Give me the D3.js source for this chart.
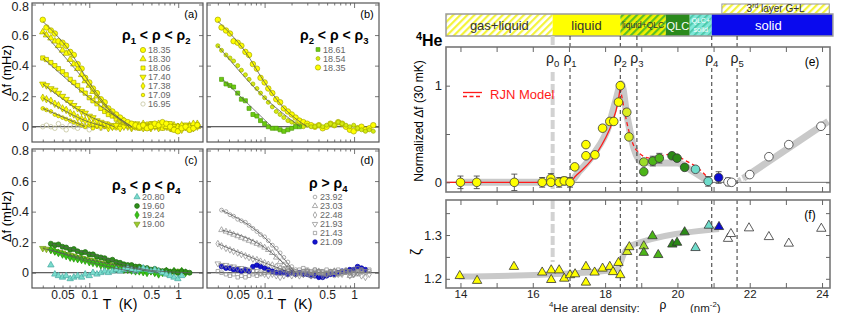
<!DOCTYPE html>
<html>
<head>
<meta charset="utf-8">
<script src="https://cdn.jsdelivr.net/npm/d3@7"></script>
<style>
  body { margin: 0; background: #fff; }
  svg { font-family: Arial, "Liberation Sans", sans-serif; }
</style>
</head>
<body>
<script>
// ---------- data: panels (a)-(d), delta f (mHz) vs T (K) ----------
const tempK = [0.030,0.033,0.037,0.041,0.045,0.050,0.055,0.061,0.067,0.074,0.082,0.090,0.100,0.110,0.122,0.135,0.149,0.164,0.182,0.201,0.222,0.245,0.271,0.299,0.331,0.365,0.404,0.446,0.493,0.545,0.602,0.665,0.735,0.812,0.897,0.991,1.095,1.21,1.34,1.48,1.64];

const df_1835 = [0.70,0.65,0.63,0.61,0.56,0.55,0.53,0.49,0.47,0.41,0.38,0.32,0.29,0.25,0.22,0.18,0.16,0.12,0.10,0.08,0.06,0.04,0.03,0.02,0.01,0.00,0.01,-0.01,0.00,0.02,0.01,0.03,0.02,0.00,-0.02,-0.03,-0.01,0.00,-0.02,-0.01,0.01];
const df_1830 = [0.62,0.60,0.58,0.56,0.53,0.50,0.48,0.44,0.41,0.38,0.34,0.30,0.27,0.23,0.20,0.17,0.14,0.11,0.09,0.07,0.05,0.04,0.02,0.01,0.00,0.01,0.00,-0.01,0.01,0.00,0.02,0.01,0.00,-0.01,-0.02,0.00,0.01,-0.01,0.00,0.02,0.00];
const df_1806 = [0.45,0.44,0.42,0.40,0.38,0.36,0.34,0.31,0.29,0.27,0.24,0.22,0.19,0.17,0.15,0.12,0.10,0.08,0.07,0.05,0.04,0.03,0.02,0.01,0.00,-0.01,0.01,0.00,0.02,0.01,0.00,-0.01,0.01,0.02,0.00,-0.01,0.00,0.01,-0.02,0.00,0.01];
const df_1740 = [0.28,0.27,0.25,0.24,0.22,0.20,0.18,0.16,0.14,0.12,0.10,0.09,0.07,0.06,0.04,0.03,0.02,0.01,0.00,0.01,-0.01,0.00,0.01,0.00,0.02,0.00,-0.01,0.01,0.00,0.01,-0.01,0.00,0.02,0.01,0.00,-0.02,0.00,0.01,0.00,-0.01,0.00];
const df_1738 = [0.19,0.18,0.17,0.15,0.14,0.12,0.11,0.09,0.08,0.06,0.05,0.04,0.03,0.02,0.01,0.00,0.01,-0.01,0.00,0.01,0.00,0.02,0.00,-0.01,0.01,0.00,0.02,0.00,-0.01,0.00,0.01,0.02,0.00,-0.01,0.01,0.00,-0.02,0.00,0.01,0.00,0.02];
const df_1709 = [0.12,0.11,0.10,0.08,0.07,0.06,0.05,0.04,0.03,0.02,0.01,0.00,0.01,-0.01,0.00,0.01,0.00,0.02,0.00,-0.01,0.01,0.00,0.01,0.00,-0.01,0.01,0.00,0.02,0.01,0.00,-0.01,0.00,0.01,0.00,-0.01,0.01,0.00,-0.01,0.01,0.00,0.00];
const df_1695 = [0.00,0.01,0.00,-0.01,0.02,0.00,-0.02,0.01,0.00,-0.01,0.01,0.00,-0.02,0.00,0.01,-0.01,0.00,0.01];

const df_1861 = [null,0.31,0.28,0.27,0.26,0.22,0.18,0.17,0.12,0.08,0.07,0.04,0.02,0.00,-0.01,-0.01,-0.02,-0.03,-0.02,-0.01,0.00,0.00];
const df_1854 = [0.53,0.50,0.47,0.45,0.43,0.40,0.37,0.34,0.31,0.28,0.25,0.22,0.19,0.16,0.13,0.10,0.08,0.06,0.04,0.03,0.02,0.01,0.00,0.01,0.00,0.00,0.01,0.00,0.01,0.02,0.01,0.03,0.02,0.01,0.00,0.01,-0.01,-0.02,-0.03,-0.02,-0.03];

const df_2080 = [null,null,0.05,-0.01,-0.02,-0.03,-0.02,-0.04,-0.03,-0.02,-0.03,-0.01,-0.02,0.00,-0.01,0.00,0.01,0.00,0.01,0.02,0.01,0.02,0.03,0.02,0.01,0.02,0.03,0.02,0.01,0.02,0.01,0.00,-0.01,-0.02,-0.03,-0.04,-0.02];
const df_1960 = [null,null,0.19,0.18,0.185,0.17,0.165,0.15,0.155,0.14,0.13,0.135,0.12,0.12,0.105,0.10,0.095,0.08,0.085,0.07,0.065,0.055,0.05,0.05,0.04,0.04,0.03,0.03,0.02,0.025,0.015,0.01,0.015,0.005,0.01,0.00,0.01,0.005,0.00];
const df_1924 = [null,null,0.15,0.14,0.13,0.12,0.11,0.10,0.095,0.09,0.085,0.08,0.07,0.065,0.06,0.05,0.045,0.04,0.035,0.03,0.025,0.02,0.02,0.015,0.01,0.01,0.005,0.00,0.01,0.00,-0.01,0.00,0.01,0.00,0.01,0.00,0.01,0.00];
const df_1900 = [0.16,0.155,0.15,0.14,0.135,0.13,0.12,0.115,0.11,0.10,0.095,0.09,0.085,0.08,0.07,0.065,0.06,0.055,0.05,0.045,0.04,0.035,0.03,0.025,0.02,0.02,0.015,0.01,0.01,0.005,0.00,0.01,0.00,0.005,0.00,0.01,0.00];

const df_2392 = [null,0.41,0.40,0.38,0.37,0.35,0.34,0.33,0.31,0.29,0.27,0.25,0.235,0.21,0.18,0.16,0.13,0.10,0.07,0.04,0.02,0.00,0.01,-0.01,0.00,0.02,0.01,-0.01,0.00,0.01,-0.02,0.00,0.01,0.02,0.00,-0.01,0.01,0.02,0.00,0.01];
const df_2303 = [null,0.28,0.27,0.26,0.25,0.24,0.23,0.22,0.21,0.20,0.19,0.18,0.165,0.15,0.13,0.10,0.07,0.05,0.03,0.01,0.00,-0.01,0.00,0.01,-0.02,0.00,0.01,0.00,-0.01,0.00,0.01,-0.01,0.00,0.01,-0.02,0.00,-0.01,0.01];
const df_2248 = [0.19,0.175,0.16,0.15,0.14,0.13,0.12,0.11,0.10,0.09,0.085,0.075,0.065,0.055,0.05,0.04,0.03,0.02,0.01,0.00,-0.01,-0.02,-0.01,0.00,-0.02,-0.01,0.00,-0.02,-0.01,0.00,0.01,-0.01,0.00,0.01,-0.02,-0.01,0.00,-0.02,-0.03,-0.01];
const df_2193 = [0.06,0.05,0.05,0.04,0.04,0.03,0.03,0.02,0.02,0.01,0.01,0.00,-0.01,-0.02,-0.01,-0.02,-0.03,-0.02,-0.01,-0.02,-0.01,0.00,-0.01,0.01,0.00,-0.01,0.01,0.00,-0.01,0.00,0.01,0.00,-0.01,0.01,0.00,-0.01,0.00,0.01];
const df_2143 = [0.01,0.00,-0.01,-0.02,-0.01,-0.03,-0.02,-0.03,-0.02,-0.01,-0.02,-0.01,0.00,0.01,0.00,0.02,0.01,0.02,0.03,0.02,0.01,0.02,0.03,0.02,0.01,0.02,0.00,0.01,0.02,0.01,0.00,0.02,0.01,0.00,0.01,0.02,0.03,0.02,0.01,0.02];
const df_2109 = [null,0.04,0.03,0.03,0.02,0.02,0.01,0.02,0.01,0.04,0.05,0.04,0.03,0.02,0.01,0.00,0.00,0.00,-0.01,0.00,-0.01,0.00,-0.01,-0.01,-0.02,-0.02,-0.03,-0.03,-0.02,-0.01,-0.01,0.00,0.01,0.01,0.02,0.02,0.04,0.03,0.02];

// fitted curves [T, delta f]
const fit_1835 = [[0.030,0.69],[0.061,0.49],[0.10,0.29],[0.16,0.13],[0.30,0.0]];
const fit_1830 = [[0.030,0.62],[0.09,0.30],[0.16,0.12],[0.28,0.0]];
const fit_1806 = [[0.030,0.45],[0.10,0.19],[0.30,0.0]];
const fit_1740 = [[0.030,0.28],[0.10,0.07],[0.19,0.0]];
const fit_1738 = [[0.030,0.19],[0.10,0.03],[0.15,0.0]];
const fit_1709 = [[0.030,0.12],[0.09,0.0]];
const fit_1861 = [[0.034,0.31],[0.12,0.0]];
const fit_1854 = [[0.030,0.53],[0.10,0.19],[0.25,0.0]];
const fit_1960 = [[0.037,0.19],[0.10,0.125],[0.50,0.015],[1.4,0.0]];
const fit_1900 = [[0.030,0.16],[0.10,0.085],[0.60,0.0]];
const fit_1924 = [[0.037,0.15],[0.10,0.07],[0.35,0.0]];
const fit_2392 = [[0.033,0.41],[0.10,0.23],[0.22,0.0]];
const fit_2303 = [[0.033,0.28],[0.10,0.165],[0.21,0.0]];
const fit_2248 = [[0.030,0.19],[0.10,0.065],[0.20,0.0]];

const legendA = ["18.35","18.30","18.06","17.40","17.38","17.09","16.95"];
const legendB = ["18.61","18.54","18.35"];
const legendC = ["20.80","19.60","19.24","19.00"];
const legendD = ["23.92","23.03","22.48","21.93","21.43","21.09"];

const tTicksMinor = [0.03,0.04,0.05,0.06,0.07,0.08,0.09,0.2,0.3,0.4,0.5,0.6,0.7,0.8,0.9];
const tTicksMajor = [0.1, 1];
const tTickLabels = [0.05, 0.1, 0.5, 1];
const dfTicks = [0, 0.2, 0.4, 0.6, 0.8];

// ---------- data: panels (e), (f) vs areal density ----------
const rhoPts = [14.0,14.45,15.49,16.26,16.5,16.5,16.73,16.87,17.03,17.16,17.47,17.47,17.72,17.93,18.13,18.24,18.37,18.42,18.6,18.66,19.07,19.07,19.32,19.5,19.85,19.99,20.2,20.5,20.85,21.14,21.4,21.5,22.0,22.53,23.08,23.97];
const normDf = [0,0,0,0,0.04,0.0,0,0.015,0,0.16,0.275,0.39,0.285,0.56,0.63,0.63,0.83,1.0,0.725,0.47,0.21,0.11,0.22,0.25,0.275,0.25,0.155,0.135,0.01,0.05,0.005,0.0,0.08,0.265,0.39,0.58];
const normErr = [0.065,0.065,0.085,0.05,0.05,0,0.05,0.04,0.05,0,0,0,0,0.03,0.03,0,0,0,0,0,0,0,0.05,0.05,0,0,0,0,0.05,0.06,0.04,0,0,0,0,0];
const rhoZeta = [13.98,14.46,15.48,16.26,16.51,16.51,16.73,16.87,17.03,17.17,17.47,17.47,17.71,17.93,18.13,18.22,18.37,18.42,18.61,18.67,19.07,19.07,19.31,19.47,19.86,19.99,20.2,20.5,20.87,21.15,21.4,21.48,21.98,22.53,23.08,23.98];
const zeta = [1.209,1.198,1.230,1.217,1.222,1.200,1.222,1.203,1.211,1.213,1.194,1.230,1.217,1.226,1.230,1.218,1.239,1.211,1.264,1.275,1.277,1.262,1.300,1.257,1.281,1.285,1.309,1.273,1.324,1.321,1.294,1.305,1.318,1.298,1.283,1.317];
const phaseOfPt = ["L","L","L","L","L","L","L","L","L","L","L","L","L","L","L","L","L","L","YG","YG","LG","G","G","G","DG","DG","DG","C","C","B","W","W","W","W","W","W"];

const bandE1 = [[13.95,0],[17.0,0],[17.3,0.12],[17.7,0.3],[18.1,0.58],[18.3,0.85],[18.45,1.02],[18.6,0.7],[18.8,0.35],[19.0,0.21],[19.5,0.2],[20.0,0.2],[20.4,0.12],[20.9,0.0]];
const bandE2 = [[21.82,0.04],[24.17,0.63]];
const bandE2gap = [[21.55,0.0],[21.82,0.04]];
const bandF = [[13.95,1.205],[17.0,1.212],[18.33,1.222],[18.55,1.262],[18.75,1.277],[21.15,1.314]];
const rjnSolid = [[13.6,0],[17.0,0],[17.2,0.07],[17.4,0.14],[17.6,0.22],[17.8,0.32],[18.0,0.45],[18.2,0.62],[18.35,0.82],[18.42,0.98]];
const rjnDashed = [[18.42,0.98],[18.54,0.73],[18.68,0.5],[18.87,0.33],[19.24,0.25],[19.79,0.29],[20.25,0.22],[20.71,0.10],[20.9,0.02]];

const rhoMarks = [16.55, 17.03, 18.42, 18.88, 20.95, 21.65];
const phaseNames = ["gas+liquid","liquid","liquid+QLC","QLC","QLC+solid","solid"];
const phaseFrom = [13.6, 16.55, 18.42, 19.68, 20.34, 20.95];
const phaseTo = [16.55, 18.42, 19.68, 20.34, 20.95, 24.3];
const thirdLayer = [21.23, 24.2];

const rhoTicks = [14,15,16,17,18,19,20,21,22,23,24];
const rhoTickLabels = [14,16,18,20,22,24];
const normTicks = [0, 0.5, 1];
const normTickLabels = [0, 1];
const zetaTicks = [1.2, 1.25, 1.3, 1.35];
const zetaTickLabels = [1.2, 1.3];

// ---------- styles ----------
const dfByRho = {
  "18.35": df_1835, "18.30": df_1830, "18.06": df_1806, "17.40": df_1740, "17.38": df_1738,
  "17.09": df_1709, "16.95": df_1695, "18.61": df_1861, "18.54": df_1854,
  "20.80": df_2080, "19.60": df_1960, "19.24": df_1924, "19.00": df_1900,
  "23.92": df_2392, "23.03": df_2303, "22.48": df_2248, "21.93": df_2193, "21.43": df_2143, "21.09": df_2109
};
const Y = "#ffff00", YS = "#a6a600", GR = "#8a8a8a";
const markStyle = {
  "18.35": { shape: "circle", size: 24, fill: Y, stroke: YS },
  "18.30": { shape: "up", size: 18, fill: Y, stroke: YS },
  "18.06": { shape: "square", size: 18, fill: Y, stroke: YS },
  "17.40": { shape: "down", size: 18, fill: Y, stroke: YS },
  "17.38": { shape: "diamond", size: 16, fill: Y, stroke: YS },
  "17.09": { shape: "circle", size: 11, fill: Y, stroke: YS },
  "16.95": { shape: "circle", size: 16, fill: "none", stroke: "#bdbd90" },
  "18.61": { shape: "square", size: 16, fill: "#6ccc10", stroke: "#4f9f08" },
  "18.54": { shape: "circle", size: 13, fill: "#d6ec10", stroke: "#a0b000" },
  "20.80": { shape: "up", size: 18, fill: "#7adccc", stroke: "#46a8a0" },
  "19.60": { shape: "circle", size: 20, fill: "#2f8f1a", stroke: "#1e6a10" },
  "19.24": { shape: "diamond", size: 18, fill: "#38c414", stroke: "#23930a" },
  "19.00": { shape: "down", size: 18, fill: "#9ccc2c", stroke: "#759a1e" },
  "23.92": { shape: "circle", size: 12, fill: "none", stroke: GR },
  "23.03": { shape: "up", size: 14, fill: "none", stroke: GR },
  "22.48": { shape: "diamond", size: 13, fill: "none", stroke: GR },
  "21.93": { shape: "down", size: 14, fill: "none", stroke: GR },
  "21.43": { shape: "square", size: 12, fill: "none", stroke: GR },
  "21.09": { shape: "circle", size: 18, fill: "#1414d0", stroke: "#0000a0" }
};
const phaseColor = { L: "#ffff00", YG: "#dcee22", LG: "#9ddc2a", G: "#4cb518", DG: "#2b8a17", C: "#6fdccb", B: "#0a0ad0", W: "#ffffff" };

const symbolTypes = { circle: d3.symbolCircle, up: d3.symbolTriangle, down: d3.symbolTriangle, square: d3.symbolSquare, diamond: d3.symbolDiamond };

const svg = d3.select("body").append("svg").attr("width", 847).attr("height", 313);

function rich(g, x, y, parts, fs, anchor) {
  const t = g.append("text").attr("x", x).attr("y", y).attr("font-size", fs).attr("text-anchor", anchor || "start");
  let shift = 0;
  parts.forEach(([s, kind]) => {
    const target = kind === "sub" ? fs * 0.3 : kind === "sup" ? -fs * 0.4 : 0;
    t.append("tspan").attr("dy", target - shift).attr("font-size", kind ? fs * 0.68 : fs).text(s);
    shift = target;
  });
  return t;
}

function styleAxis(sel, color, width) {
  sel.select(".domain").remove();
  sel.selectAll(".tick line").attr("stroke", color).attr("stroke-width", width);
  sel.attr("font-family", null).attr("font-size", null);
  sel.selectAll("text").attr("fill", "#222");
}

function drawMark(sel, st, scale, xf, yf) {
  const dstr = d3.symbol().type(symbolTypes[st.shape]).size(st.size * scale)();
  sel.attr("d", dstr)
    .attr("transform", d => `translate(${xf(d)},${yf(d)})` + (st.shape === "down" ? " rotate(180)" : ""))
    .attr("fill", st.fill).attr("stroke", st.stroke).attr("stroke-width", 0.7);
}

// ---------- left panels ----------
const colX = [[32, 203], [207, 379]];
const rowY = [[3, 142], [149, 288]];
const tDomain = [0.0227, 1.9];
const dfDomain = [-0.1, 0.81];

function tPanel(p) {
  const [x0, x1] = colX[p.col], [y0, y1] = rowY[p.row];
  const x = d3.scaleLog().domain(tDomain).range([x0, x1]);
  const y = d3.scaleLinear().domain(dfDomain).range([y1, y0]);
  const g = svg.append("g");

  g.append("line").attr("x1", x0).attr("x2", x1).attr("y1", y(0)).attr("y2", y(0))
    .attr("stroke", "#333").attr("stroke-width", 1);

  p.series.slice().reverse().forEach(key => {
    const st = markStyle[key];
    const pts = dfByRho[key].map((v, i) => [tempK[i], v]).filter(d => d[1] !== null);
    g.append("g").selectAll("path").data(pts).join("path")
      .call(drawMark, st, 1, d => x(d[0]), d => y(d[1]));
  });

  const line = d3.line().x(d => x(d[0])).y(d => y(d[1])).curve(d3.curveMonotoneX);
  p.fits.forEach(f => g.append("path").attr("d", line(f)).attr("fill", "none")
    .attr("stroke", "#5a5a5a").attr("stroke-width", 0.8));

  g.append("rect").attr("x", x0).attr("y", y0).attr("width", x1 - x0).attr("height", y1 - y0)
    .attr("fill", "none").attr("stroke", "#555").attr("stroke-width", 1.2);

  // ticks (inward)
  [["bottom", y1], ["top", y0]].forEach(([side, yy]) => {
    const gen = side === "bottom" ? d3.axisBottom : d3.axisTop;
    g.append("g").attr("transform", `translate(0,${yy})`)
      .call(gen(x).tickValues(tTicksMinor).tickSize(-2.5).tickFormat(""))
      .call(styleAxis, "#555", 0.8);
    g.append("g").attr("transform", `translate(0,${yy})`)
      .call(gen(x).tickValues(tTicksMajor).tickSize(-5).tickFormat(""))
      .call(styleAxis, "#555", 0.8);
  });
  if (p.showX) {
    g.append("g").attr("transform", `translate(0,${y1})`)
      .call(d3.axisBottom(x).tickValues(tTickLabels).tickSize(0).tickPadding(2).tickFormat(d3.format("")))
      .call(styleAxis, "#555", 0.8)
      .selectAll("text").attr("font-size", 12);
    g.append("text").attr("x", x0 + 75).attr("y", 309).attr("font-size", 14).attr("text-anchor", "middle").text("T");
    g.append("text").attr("x", x0 + 96).attr("y", 309).attr("font-size", 14).attr("text-anchor", "middle").text("(K)");
  }
  g.append("g").attr("transform", `translate(${x0},0)`)
    .call(d3.axisLeft(y).tickValues(dfTicks).tickSize(-4).tickPadding(3)
      .tickFormat(p.showY ? (d => d === 0 ? "0" : d.toFixed(1)) : ""))
    .call(styleAxis, "#555", 0.8)
    .selectAll("text").attr("font-size", 12.5)
    .attr("dy", d => d === 0.8 && p.row === 0 ? "0.5em" : "0.32em");
  g.append("g").attr("transform", `translate(${x1},0)`)
    .call(d3.axisRight(y).tickValues(dfTicks).tickSize(-4).tickFormat(""))
    .call(styleAxis, "#555", 0.8);

  if (p.showY) {
    g.append("text").attr("transform", `translate(11,${(y0 + y1) / 2 - 2}) rotate(-90)`)
      .attr("text-anchor", "middle").attr("font-size", 13).text("\u0394f  (mHz)");
  }
  g.append("text").attr("x", x1 - 12).attr("y", y0 + 15).attr("font-size", 11)
    .attr("text-anchor", "middle").text(p.label);

  // legend
  rich(g, p.leg[0], p.leg[1], p.title, 14).attr("font-weight", "bold");
  p.series.forEach((key, i) => {
    const ly = p.leg[3] + i * 9;
    g.append("path").datum(0).call(drawMark, markStyle[key], 0.9, () => p.leg[2], () => ly);
    g.append("text").attr("x", p.leg[2] + 5).attr("y", ly + 3.2).attr("font-size", 9)
      .attr("fill", "#666").text(key);
  });
}

tPanel({ col: 0, row: 0, label: "(a)", showY: true, showX: false, series: legendA,
  fits: [fit_1835, fit_1830, fit_1806, fit_1740, fit_1738, fit_1709],
  title: [["\u03c1"], ["1", "sub"], [" < \u03c1 < \u03c1"], ["2", "sub"]], leg: [122, 40, 143, 50] });
tPanel({ col: 1, row: 0, label: "(b)", showY: false, showX: false, series: legendB,
  fits: [fit_1835, fit_1854, fit_1861],
  title: [["\u03c1"], ["2", "sub"], [" < \u03c1 < \u03c1"], ["3", "sub"]], leg: [300, 40, 318, 49.5] });
tPanel({ col: 0, row: 1, label: "(c)", showY: true, showX: true, series: legendC,
  fits: [fit_1960, fit_1900, fit_1924],
  title: [["\u03c1"], ["3", "sub"], [" < \u03c1 < \u03c1"], ["4", "sub"]], leg: [112, 190, 137, 197] });
tPanel({ col: 1, row: 1, label: "(d)", showY: false, showX: true, series: legendD,
  fits: [fit_2392, fit_2303, fit_2248],
  title: [["\u03c1 > \u03c1"], ["4", "sub"]], leg: [309, 188, 315, 197] });

// ---------- right panels ----------
const xr = d3.scaleLinear().domain([13.6, 24.22]).range([446, 830]);
const eTop = 47, eBot = 192, fTop = 200, fBot = 288;
const yE = d3.scaleLinear().domain([-0.1, 1.4]).range([eBot, eTop]);
const yF = d3.scaleLinear().domain([1.179, 1.38]).range([fBot, fTop]);
const R = svg.append("g");

// hatch patterns
const defs = svg.append("defs");
function hatch(id, bg, stripe, w) {
  const p = defs.append("pattern").attr("id", id).attr("patternUnits", "userSpaceOnUse")
    .attr("width", 5).attr("height", 5).attr("patternTransform", "rotate(45)");
  p.append("rect").attr("width", 5).attr("height", 5).attr("fill", bg);
  p.append("rect").attr("width", w).attr("height", 5).attr("fill", stripe);
}
hatch("hY", "#ffffff", "#f4f43a", 2.2);
hatch("hYG", "#f0f000", "#5cbf22", 2.2);
hatch("hC", "#7ee8d8", "#4cc7a8", 1.8);
const phaseFill = ["url(#hY)", "#ffff00", "url(#hYG)", "#2b8a1c", "url(#hC)", "#0a0aee"];
const phaseText = ["#333", "#333", "#333", "#fff", "#fff", "#fff"];

// phase bar
const barTop = 14, barBot = 36;
phaseNames.forEach((n, i) => {
  R.append("rect").attr("x", xr(phaseFrom[i])).attr("y", barTop)
    .attr("width", xr(phaseTo[i]) - xr(phaseFrom[i])).attr("height", barBot - barTop)
    .attr("fill", phaseFill[i]);
});
R.append("rect").attr("x", xr(phaseFrom[0])).attr("y", barTop)
  .attr("width", xr(phaseTo[5]) - xr(phaseFrom[0])).attr("height", barBot - barTop)
  .attr("fill", "none").attr("stroke", "#9a9a9a").attr("stroke-width", 1.5);
const mid = i => (xr(phaseFrom[i]) + xr(phaseTo[i])) / 2;
R.append("text").attr("x", mid(0)).attr("y", 30).attr("font-size", 13).attr("text-anchor", "middle").attr("fill", phaseText[0]).text(phaseNames[0]);
R.append("text").attr("x", mid(1)).attr("y", 30).attr("font-size", 13).attr("text-anchor", "middle").attr("fill", phaseText[1]).text(phaseNames[1]);
R.append("text").attr("x", mid(2)).attr("y", 28).attr("font-size", 8.5).attr("text-anchor", "middle").attr("fill", phaseText[2]).text(phaseNames[2]);
R.append("text").attr("x", mid(3)).attr("y", 29.5).attr("font-size", 11).attr("text-anchor", "middle").attr("fill", phaseText[3]).text(phaseNames[3]);
R.append("text").attr("x", mid(4)).attr("y", 23).attr("font-size", 7).attr("text-anchor", "middle").attr("fill", phaseText[4]).text("QLC+");
R.append("text").attr("x", mid(4)).attr("y", 32).attr("font-size", 7).attr("text-anchor", "middle").attr("fill", phaseText[4]).text("solid");
R.append("text").attr("x", mid(5) - 4).attr("y", 30).attr("font-size", 13).attr("text-anchor", "middle").attr("fill", phaseText[5]).text(phaseNames[5]);

R.append("rect").attr("x", xr(thirdLayer[0])).attr("y", 4).attr("width", xr(thirdLayer[1]) - xr(thirdLayer[0]))
  .attr("height", 9.5).attr("fill", "url(#hY)").attr("stroke", "#9a9a9a").attr("stroke-width", 1);
rich(R, (xr(thirdLayer[0]) + xr(thirdLayer[1])) / 2, 12, [["3"], ["rd", "sup"], [" layer G+L"]], 10, "middle").attr("fill", "#333");

rich(R, 416, 46, [["4", "sup"], ["He"]], 16).attr("font-weight", "bold");

// zero line, bands, model
R.append("line").attr("x1", 446).attr("x2", 830).attr("y1", yE(0)).attr("y2", yE(0)).attr("stroke", "#444").attr("stroke-width", 0.8);
const lineE = d3.line().x(d => xr(d[0])).y(d => yE(d[1])).curve(d3.curveMonotoneX);
const lineF = d3.line().x(d => xr(d[0])).y(d => yF(d[1])).curve(d3.curveMonotoneX);
[bandE1, bandE2].forEach(b => R.append("path").attr("d", lineE(b)).attr("fill", "none")
  .attr("stroke", "#c9c9c9").attr("stroke-width", 7).attr("stroke-linejoin", "round"));
R.append("path").attr("d", lineE(bandE2gap)).attr("fill", "none").attr("stroke", "#c9c9c9")
  .attr("stroke-width", 5).attr("stroke-dasharray", "3,2");
R.append("path").attr("d", lineF(bandF)).attr("fill", "none").attr("stroke", "#c9c9c9")
  .attr("stroke-width", 6).attr("stroke-linejoin", "round");
R.append("path").attr("d", lineE(rjnSolid)).attr("fill", "none").attr("stroke", "#ff1a1a").attr("stroke-width", 1.3);
R.append("path").attr("d", lineE(rjnDashed)).attr("fill", "none").attr("stroke", "#ff1a1a").attr("stroke-width", 1.3)
  .attr("stroke-dasharray", "4,3");

// rho markers
rhoMarks.forEach((r, i) => {
  const xx = xr(r);
  const st = i === 0
    ? { c: "#d2d2d2", w: 4, d: "9,3" }
    : { c: "#333", w: 1, d: "4,3" };
  [[barBot, eTop], [i === 0 ? 72 : 68, eBot], [fTop, i === 0 ? 262 : fBot]].forEach(([a, b]) => {
    R.append("line").attr("x1", xx).attr("x2", xx).attr("y1", a).attr("y2", b)
      .attr("stroke", st.c).attr("stroke-width", st.w).attr("stroke-dasharray", st.d);
  });
  rich(R, xx, 63, [["\u03c1"], [String(i), "sub"]], 14, "middle").attr("fill", "#222");
});

// error bars + points (e)
rhoPts.forEach((r, i) => {
  if (!normErr[i]) return;
  const xx = xr(r), a = yE(normDf[i] - normErr[i]), b = yE(normDf[i] + normErr[i]);
  R.append("line").attr("x1", xx).attr("x2", xx).attr("y1", a).attr("y2", b).attr("stroke", "#333").attr("stroke-width", 0.8);
  [a, b].forEach(v => R.append("line").attr("x1", xx - 3).attr("x2", xx + 3).attr("y1", v).attr("y2", v).attr("stroke", "#333").attr("stroke-width", 0.8));
});
R.append("g").selectAll("circle").data(rhoPts).join("circle")
  .attr("cx", d => xr(d)).attr("cy", (d, i) => yE(normDf[i])).attr("r", 4.3)
  .attr("fill", (d, i) => phaseColor[phaseOfPt[i]]).attr("stroke", "#3a3a3a").attr("stroke-width", 0.8);

// triangles (f)
const tri = d3.symbol().type(d3.symbolTriangle).size(38)();
R.append("g").selectAll("path").data(rhoZeta).join("path")
  .attr("d", tri).attr("transform", (d, i) => `translate(${xr(d)},${yF(zeta[i]) + 1})`)
  .attr("fill", (d, i) => phaseColor[phaseOfPt[i]]).attr("stroke", "#333").attr("stroke-width", 0.8);

// frames and axes
[[eTop, eBot, yE, normTicks, normTickLabels, d => String(d)], [fTop, fBot, yF, zetaTicks, zetaTickLabels, d => d.toFixed(1)]]
  .forEach(([t, b, ys, ticks, labels, fmt]) => {
    R.append("rect").attr("x", 446).attr("y", t).attr("width", 384).attr("height", b - t)
      .attr("fill", "none").attr("stroke", "#777").attr("stroke-width", 1.6);
    R.append("g").attr("transform", `translate(0,${b})`)
      .call(d3.axisBottom(xr).tickValues(rhoTicks).tickSize(-5).tickFormat(""))
      .call(styleAxis, "#666", 1);
    R.append("g").attr("transform", `translate(0,${t})`)
      .call(d3.axisTop(xr).tickValues(rhoTicks).tickSize(-5).tickFormat(""))
      .call(styleAxis, "#666", 1);
    R.append("g").attr("transform", "translate(446,0)")
      .call(d3.axisLeft(ys).tickValues(ticks).tickSize(-4).tickFormat(""))
      .call(styleAxis, "#666", 1);
    R.append("g").attr("transform", "translate(830,0)")
      .call(d3.axisRight(ys).tickValues(ticks).tickSize(-4).tickFormat(""))
      .call(styleAxis, "#666", 1);
    R.append("g").attr("transform", "translate(446,0)")
      .call(d3.axisLeft(ys).tickValues(labels).tickSize(0).tickPadding(4).tickFormat(fmt))
      .call(styleAxis, "#666", 1)
      .selectAll("text").attr("font-size", 13);
  });
R.append("g").attr("transform", `translate(0,${fBot})`)
  .call(d3.axisBottom(xr).tickValues(rhoTickLabels).tickSize(0).tickPadding(2).tickFormat(d3.format("d")))
  .call(styleAxis, "#666", 1)
  .selectAll("text").attr("font-size", 11.5);

// right-side texts
R.append("text").attr("transform", "translate(423,121) rotate(-90)").attr("text-anchor", "middle")
  .attr("font-size", 12).text("Normalized \u0394f  (30 mK)");
R.append("text").attr("transform", "translate(421,252) rotate(-90)").attr("text-anchor", "middle")
  .attr("font-size", 14).text("\u03b6");
rich(R, 549, 311.5, [["4", "sup"], ["He areal density:"]], 11.5).attr("fill", "#222");
R.append("text").attr("x", 663).attr("y", 309).attr("font-size", 12).attr("text-anchor", "middle").text("\u03c1");
rich(R, 690, 311.5, [["(nm"], ["-2", "sup"], [")"]], 11.5).attr("fill", "#222");
R.append("text").attr("x", 812).attr("y", 66).attr("font-size", 12).attr("text-anchor", "middle").text("(e)");
R.append("text").attr("x", 810).attr("y", 219).attr("font-size", 12).attr("text-anchor", "middle").text("(f)");

// RJN legend
R.append("line").attr("x1", 463).attr("x2", 482).attr("y1", 92.5).attr("y2", 92.5).attr("stroke", "#ff1a1a").attr("stroke-width", 1.3);
R.append("line").attr("x1", 463).attr("x2", 482).attr("y1", 96.5).attr("y2", 96.5).attr("stroke", "#ff1a1a").attr("stroke-width", 1.3).attr("stroke-dasharray", "4,2.5");
R.append("text").attr("x", 490).attr("y", 99).attr("font-size", 13).attr("fill", "#ff1a1a").text("RJN Model");
</script>
</body>
</html>
